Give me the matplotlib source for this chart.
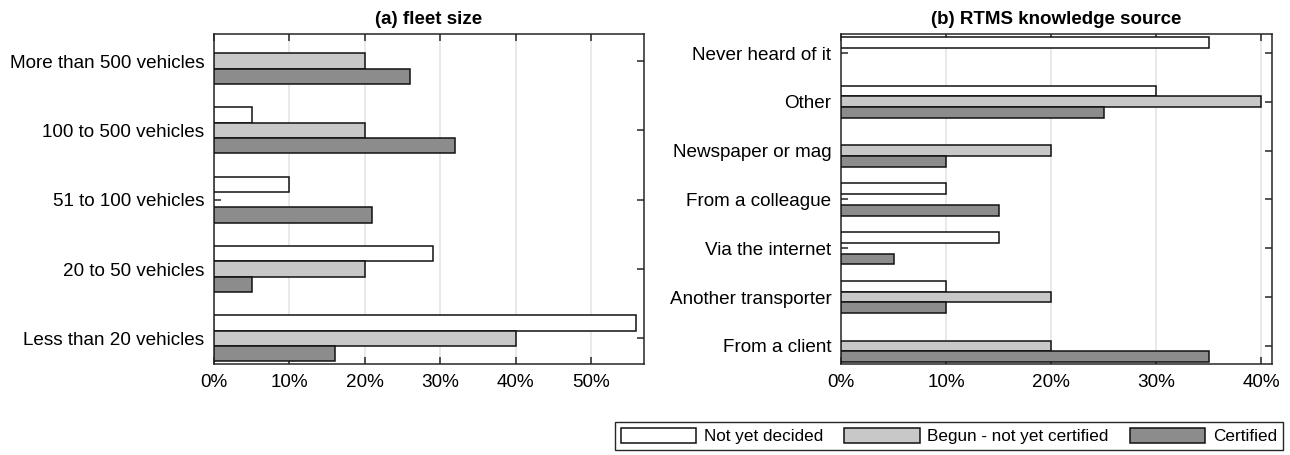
import matplotlib.pyplot as plt
import numpy as np
from matplotlib.patches import Patch
from matplotlib.ticker import PercentFormatter

plt.rcParams["font.family"] = ["Liberation Sans", "DejaVu Sans"]

# --- Data (percent), categories listed bottom to top ---
series_names = ["Not yet decided", "Begun - not yet certified", "Certified"]
series_colors = ["#ffffff", "#c8c8c8", "#8c8c8c"]

fleet_labels = [
    "Less than 20 vehicles",
    "20 to 50 vehicles",
    "51 to 100 vehicles",
    "100 to 500 vehicles",
    "More than 500 vehicles",
]
fleet_not_decided = [56, 29, 10, 5, 0]
fleet_begun = [40, 20, 0, 20, 20]
fleet_certified = [16, 5, 21, 32, 26]

source_labels = [
    "From a client",
    "Another transporter",
    "Via the internet",
    "From a colleague",
    "Newspaper or mag",
    "Other",
    "Never heard of it",
]
source_not_decided = [0, 10, 15, 10, 0, 30, 35]
source_begun = [20, 20, 0, 0, 20, 40, 0]
source_certified = [35, 10, 5, 15, 10, 25, 0]


def grouped_barh(ax, labels, groups, title, xmax, xticks):
    y = np.arange(1, len(labels) + 1)
    h = 0.22
    # first series sits on top within each group
    offsets = [h, 0, -h]
    for vals, off, col in zip(groups, offsets, series_colors):
        vals = np.asarray(vals, dtype=float)
        keep = vals > 0  # zero bars are not drawn in the original
        ax.barh((y + off)[keep], vals[keep], height=h, color=col,
                edgecolor="#111111", linewidth=1.1, zorder=3)
    ax.set_yticks(y)
    ax.set_yticklabels(labels, fontsize=13.6)
    ax.set_xticks(xticks)
    ax.xaxis.set_major_formatter(PercentFormatter(decimals=0))
    ax.tick_params(axis="x", labelsize=13.6, pad=7)
    ax.set_xlim(0, xmax)
    ax.set_ylim(0.63, len(labels) + 0.39)
    ax.tick_params(direction="in", length=5, width=1.1, color="#262626",
                   top=True, right=True)
    ax.tick_params(axis="y", pad=7)
    ax.grid(axis="x", color="#e3e3e3", linewidth=1.1, zorder=0)
    ax.set_axisbelow(True)
    for s in ax.spines.values():
        s.set_color("#262626")
        s.set_linewidth(1.1)
    ax.set_title(title, fontsize=13.5, fontweight="bold", pad=7)


fig = plt.figure(figsize=(12.9, 4.55), dpi=100)
ax1 = fig.add_axes([214 / 1290, 91 / 455, 430 / 1290, 330 / 455])
ax2 = fig.add_axes([841 / 1290, 91 / 455, 431 / 1290, 330 / 455])

grouped_barh(ax1, fleet_labels,
             [fleet_not_decided, fleet_begun, fleet_certified],
             "(a) fleet size", 57, [0, 10, 20, 30, 40, 50])
grouped_barh(ax2, source_labels,
             [source_not_decided, source_begun, source_certified],
             "(b) RTMS knowledge source", 41, [0, 10, 20, 30, 40])

handles = [Patch(facecolor=c, edgecolor="#111111", linewidth=1.1)
           for c in series_colors]
leg = fig.legend(handles, series_names, ncol=3, loc="upper right",
                 bbox_to_anchor=(1283 / 1290, 1 - 422 / 455),
                 fontsize=12.3, handlelength=4.4, handleheight=0.95,
                 handletextpad=0.45, columnspacing=1.25, borderpad=0.35,
                 borderaxespad=0, fancybox=False, framealpha=1)
leg.get_frame().set_edgecolor("#262626")
leg.get_frame().set_linewidth(1.0)

fig.savefig("out.png", dpi=100)
